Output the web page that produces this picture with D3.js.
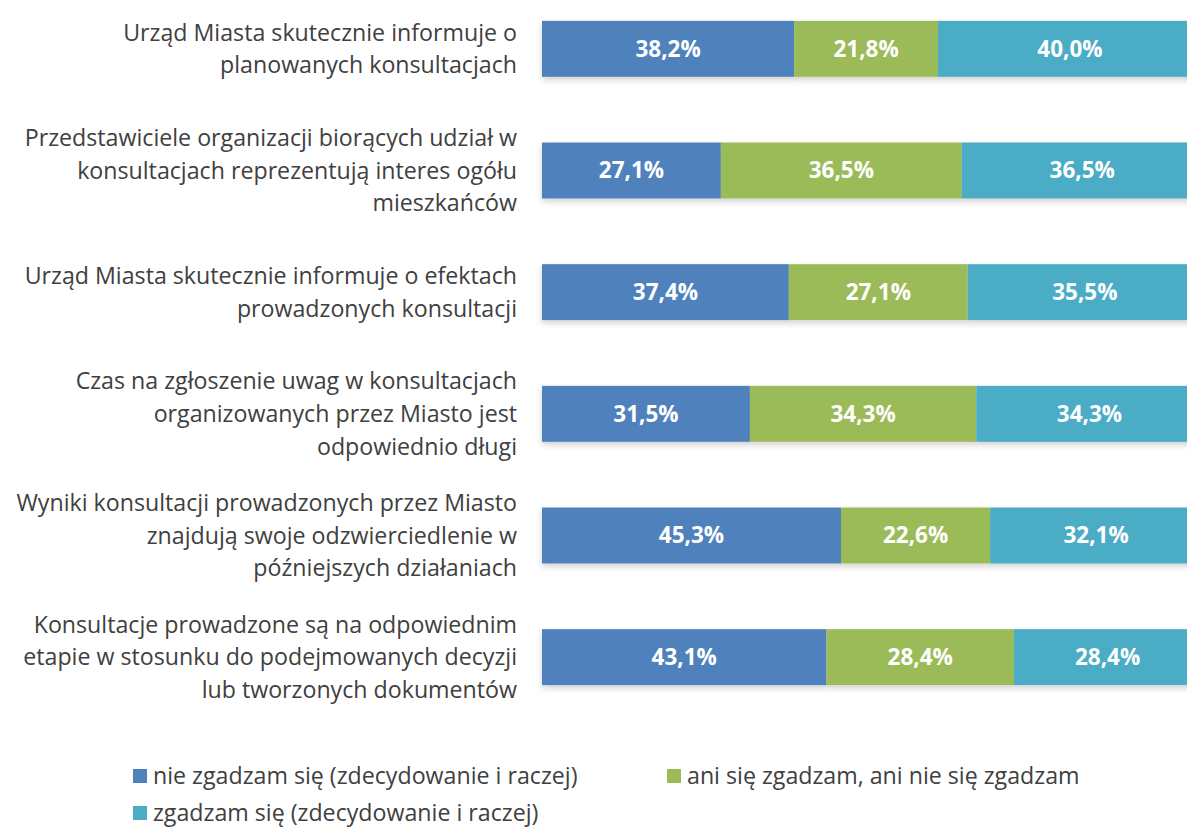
<!DOCTYPE html>
<html>
<head>
<meta charset="utf-8">
<script src="https://cdn.jsdelivr.net/npm/d3@7"></script>
<style>
  body { margin: 0; background: #fff; overflow: hidden; }
  text { font-family: "Open Sans", Lato, sans-serif; }
</style>
</head>
<body>
<svg id="chart"></svg>
<script>
const categories = [
  ["Urząd Miasta skutecznie informuje o", "planowanych konsultacjach"],
  ["Przedstawiciele organizacji biorących udział w", "konsultacjach reprezentują interes ogółu", "mieszkańców"],
  ["Urząd Miasta skutecznie informuje o efektach", "prowadzonych konsultacji"],
  ["Czas na zgłoszenie uwag w konsultacjach", "organizowanych przez Miasto jest", "odpowiednio długi"],
  ["Wyniki konsultacji prowadzonych przez Miasto", "znajdują swoje odzwierciedlenie w", "późniejszych działaniach"],
  ["Konsultacje prowadzone są na odpowiednim", "etapie w stosunku do podejmowanych decyzji", "lub tworzonych dokumentów"]
];
const disagree = [38.2, 27.1, 37.4, 31.5, 45.3, 43.1];
const neutral  = [21.8, 36.5, 27.1, 34.3, 22.6, 28.4];
const agree    = [40.0, 36.5, 35.5, 34.3, 32.1, 28.4];
const seriesNames = [
  "nie zgadzam się (zdecydowanie i raczej)",
  "ani się zgadzam, ani nie się zgadzam",
  "zgadzam się (zdecydowanie i raczej)"
];
const colors = ["#4f81bd", "#9bbb59", "#4bacc6"];

const W = 1187, H = 829;
const svg = d3.select("#chart").attr("width", W).attr("height", H);

const defs = svg.append("defs");
const f = defs.append("filter").attr("id", "shadow")
  .attr("x", "-5%").attr("y", "-30%").attr("width", "110%").attr("height", "170%");
f.append("feDropShadow").attr("dx", 0).attr("dy", 3).attr("stdDeviation", 3)
  .attr("flood-color", "#000").attr("flood-opacity", 0.18);

const data = categories.map((c, i) => ({ idx: i, vals: [disagree[i], neutral[i], agree[i]] }));

// plot area runs slightly past the right edge of the picture (cropped)
const x = d3.scaleLinear().domain([0, 100]).range([542, 1202]);
const y = d3.scaleBand().domain(d3.range(categories.length)).range([-12, 718]).paddingInner(0.54).paddingOuter(0.27);

const rows = svg.selectAll("g.row").data(data).enter().append("g").attr("class", "row");

rows.each(function (d) {
  const g = d3.select(this);
  let cum = 0;
  const segs = d.vals.map((v, k) => { const s = { k, v, x0: cum, x1: cum + v }; cum += v; return s; });
  const barG = g.append("g").attr("filter", "url(#shadow)");
  barG.selectAll("rect").data(segs).enter().append("rect")
    .attr("x", s => x(s.x0))
    .attr("width", s => x(s.x1) - x(s.x0))
    .attr("y", y(d.idx))
    .attr("height", y.bandwidth())
    .attr("fill", s => colors[s.k]);
  g.selectAll("text.val").data(segs).enter().append("text")
    .attr("class", "val")
    .attr("x", s => (x(s.x0) + x(s.x1)) / 2)
    .attr("y", y(d.idx) + y.bandwidth() / 2)
    .attr("dy", "0.35em")
    .attr("text-anchor", "middle")
    .attr("fill", "#fff")
    .attr("font-weight", "bold")
    .attr("font-size", 22.5)
    .text(s => s.v.toFixed(1).replace(".", ",") + "%");

  const lines = categories[d.idx];
  const lh = 32.6;
  const cy = y(d.idx) + y.bandwidth() / 2;
  g.append("text")
    .attr("text-anchor", "end")
    .attr("fill", "#404040")
    .attr("font-size", 23.2)
    .selectAll("tspan").data(lines).enter().append("tspan")
    .attr("x", 517)
    .attr("y", (l, j) => cy + (j - (lines.length - 1) / 2) * lh)
    .attr("dy", "0.35em")
    .text(l => l);
});

// legend
const legendPos = [[133, 776], [667, 776], [133, 813]];
const leg = svg.selectAll("g.leg").data(seriesNames).enter().append("g").attr("class", "leg")
  .attr("transform", (n, i) => `translate(${legendPos[i][0]},${legendPos[i][1]})`);
leg.append("rect").attr("x", 0).attr("y", -7).attr("width", 14).attr("height", 14)
  .attr("fill", (n, i) => colors[i]);
leg.append("text").attr("x", 20).attr("dy", "0.35em")
  .attr("font-size", 23.2).attr("fill", "#404040")
  .text(n => n);
</script>
</body>
</html>
